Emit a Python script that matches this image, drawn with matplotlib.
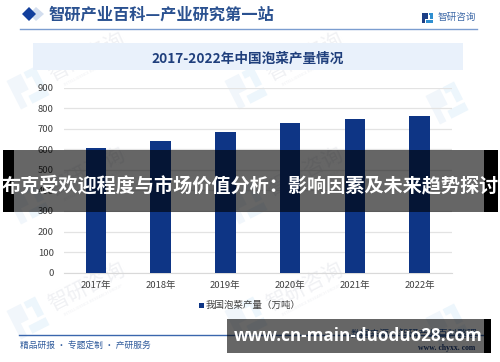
import numpy as np
import matplotlib
matplotlib.use('Agg')
import matplotlib.pyplot as plt
from matplotlib.patches import Rectangle, Polygon

plt.rcParams['font.family'] = ['Noto Sans CJK SC', 'DejaVu Sans']

years = ['2017年', '2018年', '2019年', '2020年', '2021年', '2022年']
output = [604, 638, 685, 727, 745, 761]
y_ticks = [0, 100, 200, 300, 400, 500, 600, 700, 800, 900]
series_name = '我国泡菜产量（万吨）'

W, H = 500, 362
BLUE = '#0e3585'

fig = plt.figure(figsize=(W / 100, H / 100), dpi=100)

# page layer in pixel coordinates, y going down
bg = fig.add_axes([0, 0, 1, 1])
bg.set_xlim(0, W)
bg.set_ylim(H, 0)
bg.axis('off')


def logo(a, cx, cy, s, c1, c2, rot=0, z=1):
    # the little square bracket logo, s is half its size
    ang = np.radians(rot)
    r = np.array([[np.cos(ang), np.sin(ang)], [-np.sin(ang), np.cos(ang)]])
    parts = [([(-1, -1), (0, -1), (0, 0.1), (-0.55, 0.1), (-0.55, 1), (-1, 1)], c1),
             ([(0.2, -1), (1, -1), (1, 0.25), (0.55, 0.25), (0.55, -0.55), (0.2, -0.55)], c2),
             ([(-0.2, 0.45), (1, 0.45), (1, 1), (-0.2, 1)], c2)]
    for pts, col in parts:
        xy = (np.array(pts) * s) @ r.T + [cx, cy]
        a.add_patch(Polygon(xy, color=col, lw=0, zorder=z))


# faint watermarks
for wx, wy in [(87, 57), (87, 172), (87, 287), (305, 57), (305, 172), (305, 287)]:
    bg.text(wx, wy, '智研咨询', fontsize=15, color='#f0f1f4', rotation=27,
            ha='center', va='center', zorder=1)
    bg.text(wx + 6, wy + 13, 'INTELLIGENCE RESEARCH GROUP', fontsize=3, color='#f0f1f4', rotation=27,
            ha='center', va='center', zorder=1)
for lx, ly in [(28, 88), (28, 203), (28, 318), (246, 88), (246, 203), (246, 318), (447, 103), (447, 325)]:
    logo(bg, lx, ly, 16, '#f1f6fb', '#edf6fc', rot=27)

# header
bg.add_patch(Polygon([[36, 7], [44, 14], [36, 21], [29, 14]], color='#d3deef', lw=0, zorder=2))
bg.add_patch(Polygon([[22, 14], [29, 7], [36, 14], [29, 21]], color='#123f9c', lw=0, zorder=3))
bg.text(49, 15, '智研产业百科—产业研究第一站', fontsize=11.7, fontweight='bold', color='#2a5190',
        ha='left', va='center', zorder=3)
bg.plot([20, 477], [28.5, 28.5], color='#7b9dd0', lw=1, zorder=3)
logo(bg, 427.5, 18, 5.2, '#1d3f86', '#2f8fd0', z=3)
bg.text(438, 17.5, '智研咨询', fontsize=6.9, color='#3f6aa8', ha='left', va='center', zorder=3)

# chart title band
bg.add_patch(Rectangle((33, 43), 430, 27, color='#e9f1fb', lw=0, zorder=2))
bg.text(248, 58.5, '2017-2022年中国泡菜产量情况', fontsize=9.8, fontweight='bold', color='#1f3f7c',
        ha='center', va='center', zorder=3)

# footer
bg.plot([19, 484], [334.5, 334.5], color='#3a66ad', lw=1, zorder=3)
bg.text(20, 345.5, '精品研报 · 专题定制 · 产研服务', fontsize=6.3, color='#2f5b9c',
        ha='left', va='center', zorder=3)
bg.text(477, 333.5, '数据来源：智研产业百科整理', fontsize=7, color='#2f5b9c', ha='right', va='center', zorder=3)
bg.text(475, 347.5, 'www. chyxx. com', fontsize=5.6, family='Liberation Serif', fontweight='bold',
        color='#1f3f7c', ha='right', va='center', zorder=3)

# chart
left, right, top, bottom = 63.5, 452, 87.5, 272.7
ax = fig.add_axes([left / W, 1 - bottom / H, (right - left) / W, (bottom - top) / H])
ax.patch.set_alpha(0)
x = list(range(len(years)))
ax.bar(x, output, width=0.315, color=BLUE, zorder=3)
ax.set_xlim(-0.5, 5.5)
ax.set_ylim(0, 900)
ax.set_yticks(y_ticks)
ax.set_xticks(x)
ax.set_xticklabels(years)
ax.tick_params(length=0, labelsize=6.8, colors='#404040', pad=6)
ax.tick_params(axis='y', pad=7)
ax.grid(axis='y', color='#e3e3e3', lw=0.9, zorder=0)
ax.set_axisbelow(True)
for s in ['top', 'right', 'left']:
    ax.spines[s].set_visible(False)
ax.spines['bottom'].set_color('#d9d9d9')

# legend
bg.add_patch(Rectangle((199, 303), 4.5, 4.5, color=BLUE, lw=0, zorder=3))
bg.text(206, 305, series_name, fontsize=6.8, color='#404040', ha='left', va='center', zorder=3)

# overlay bands on top of the chart
over = fig.add_axes([0, 0, 1, 1])
over.set_xlim(0, W)
over.set_ylim(H, 0)
over.axis('off')
over.patch.set_alpha(0)
over.add_patch(Rectangle((14, 150), 470, 62, color='black', alpha=0.6, lw=0))
over.add_patch(Rectangle((3, 150), 11, 62, color='black', lw=0))
over.add_patch(Rectangle((484, 150), 14, 62, color='black', lw=0))
over.text(250.5, 186, '布克受欢迎程度与市场价值分析：影响因素及未来趋势探讨', fontsize=13.8, fontweight='bold',
          color='white', ha='center', va='center')
over.add_patch(Rectangle((227, 319), 257, 34, color='black', alpha=0.6, lw=0))
over.add_patch(Rectangle((484, 319), 7, 34, color='black', lw=0))
over.text(358, 336, 'www.cn-main-duoduo28.com', fontsize=12.3, fontweight='bold', family='Open Sans',
          color='white', ha='center', va='center')

fig.savefig('out.png', dpi=100)
